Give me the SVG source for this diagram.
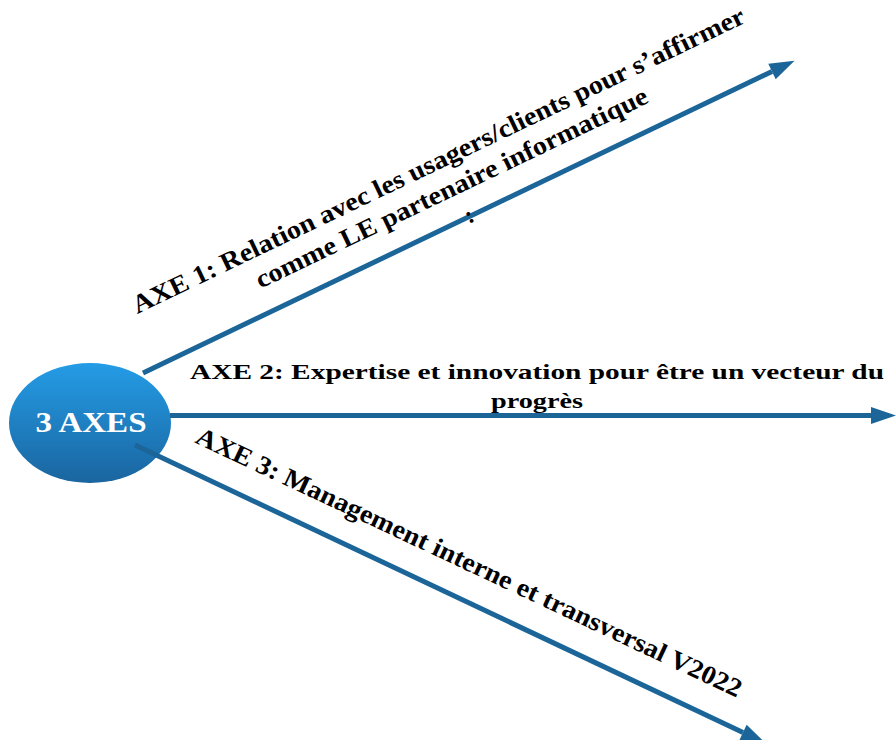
<svg xmlns="http://www.w3.org/2000/svg" width="896" height="740" viewBox="0 0 896 740">
  <style>
    .lbl { font-family: "Liberation Serif", "Times New Roman", serif; font-weight: bold; fill: #000; }
    .conn { stroke: #1b6599; stroke-width: 5; fill: none; }
  </style>
  <defs>
    <linearGradient id="gBlue" x1="0" y1="0" x2="0" y2="1">
      <stop offset="0" stop-color="#249ce6"/>
      <stop offset="1" stop-color="#1a659f"/>
    </linearGradient>
    <marker id="arrow" markerUnits="userSpaceOnUse" markerWidth="25" markerHeight="17" refX="0" refY="8.5" orient="auto" overflow="visible">
      <path d="M0,0 L25,8.5 L0,17 z" fill="#1b6599"/>
    </marker>
  </defs>
  <rect width="896" height="740" fill="#ffffff"/>

  <g id="node-center">
    <ellipse cx="90" cy="423" rx="81" ry="60" fill="url(#gBlue)"/>
    <text class="lbl" x="91" y="432" font-size="29" style="fill:#ffffff" text-anchor="middle" textLength="111" lengthAdjust="spacingAndGlyphs">3 AXES</text>
  </g>

  <g id="connectors">
    <line class="conn" x1="143" y1="373" x2="772" y2="71.5" marker-end="url(#arrow)"/>
    <line class="conn" x1="170" y1="415.5" x2="871" y2="415.5" marker-end="url(#arrow)"/>
    <line class="conn" x1="135" y1="445" x2="743" y2="732.5" marker-end="url(#arrow)"/>
  </g>

  <g id="label-axe1" transform="translate(442,168) rotate(-25.6)">
    <text class="lbl" x="0" y="0" font-size="26" text-anchor="middle" textLength="676" lengthAdjust="spacingAndGlyphs">AXE 1: Relation avec les usagers/clients pour s’affirmer</text>
    <text class="lbl" x="0" y="30.5" font-size="26" text-anchor="middle" textLength="432" lengthAdjust="spacingAndGlyphs">comme LE partenaire informatique</text>
    <text class="lbl" x="4" y="62" font-size="24" text-anchor="middle">:</text>
  </g>

  <g id="label-axe2">
    <text class="lbl" x="537" y="379" font-size="22" text-anchor="middle" textLength="694" lengthAdjust="spacingAndGlyphs">AXE 2: Expertise et innovation pour être un vecteur du</text>
    <text class="lbl" x="537" y="408" font-size="22" text-anchor="middle" textLength="92" lengthAdjust="spacingAndGlyphs">progrès</text>
  </g>

  <g id="label-axe3" transform="translate(465.5,570) rotate(25.2)">
    <text class="lbl" x="0" y="0" font-size="26" text-anchor="middle" textLength="600" lengthAdjust="spacingAndGlyphs">AXE 3: Management interne et transversal V2022</text>
  </g>
</svg>
